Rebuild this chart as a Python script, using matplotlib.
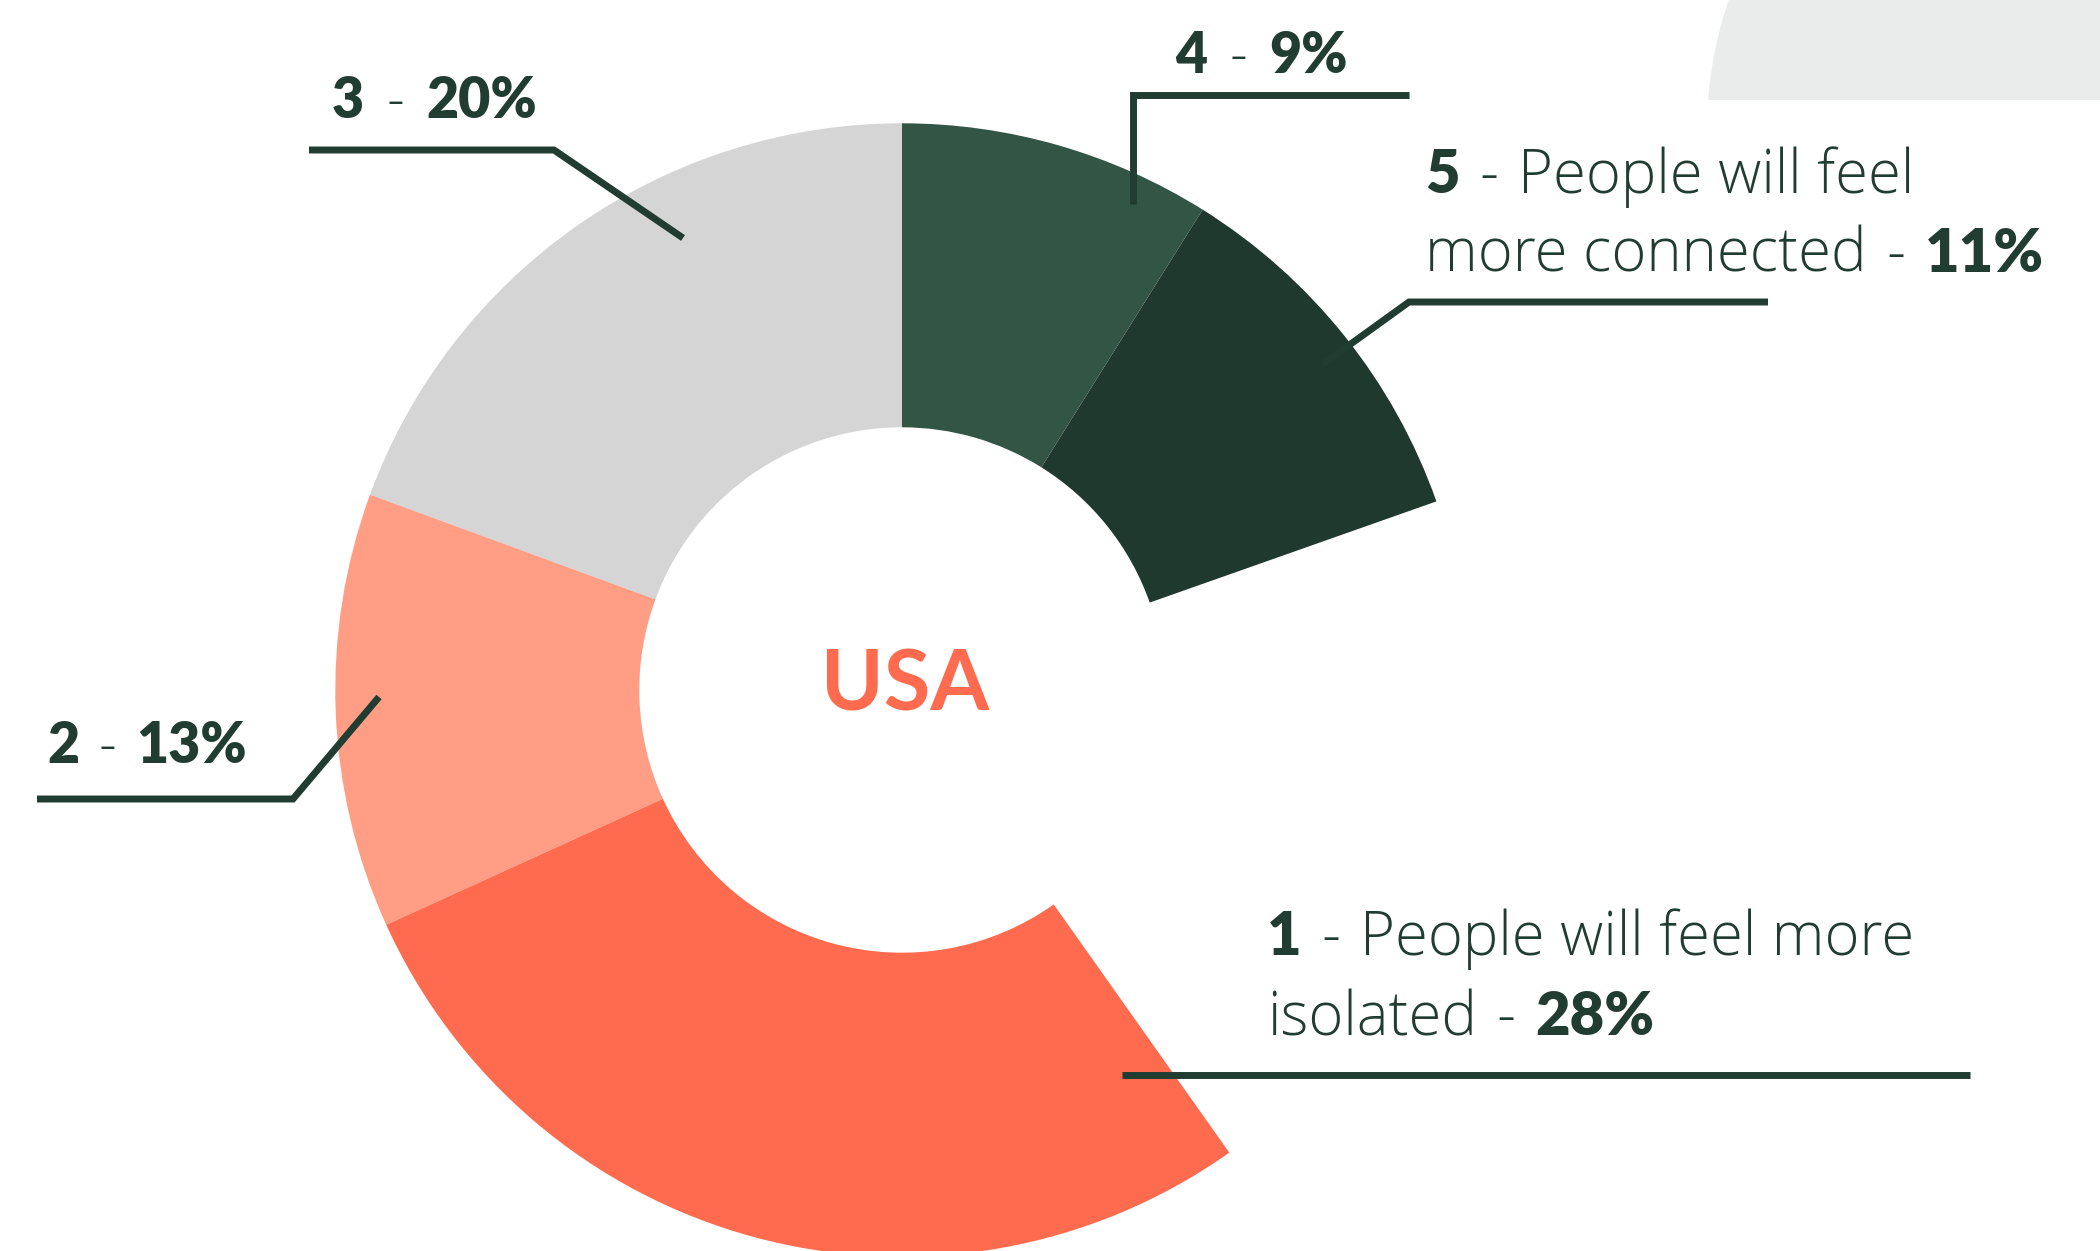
import matplotlib
matplotlib.use("Agg")
import matplotlib.pyplot as plt
from matplotlib.patches import Circle, Rectangle

# ── Data ─────────────────────────────────────────────────────
# wedges in drawing order, counter-clockwise from 12 o'clock
ranks      = ["3", "2", "1", "5", "4"]
pct_labels = ["20%", "13%", "28%", "11%", "9%"]
shares     = [19.4, 12.4, 28.0, 10.7, 8.9]   # arc share as drawn
gap_share  = 20.6                             # empty part of the ring
colors     = ["#d5d5d5", "#ff9d85", "#ff6b4f", "#1f392e", "#335545"]
desc_1     = ["People will feel more", "isolated"]
desc_5     = ["People will feel", "more connected"]
center_txt = "USA"

INK   = "#213d32"
CORAL = "#ff6b4f"
BOLD_FONT = ["Lato", "DejaVu Sans"]
BODY_FONT = ["Open Sans", "Lato", "DejaVu Sans"]
W, H  = 2100, 1251

fig = plt.figure(figsize=(W / 100, H / 100), dpi=100)
ax = fig.add_axes([0, 0, 1, 1])

# ── Decorative grey disc, top right ──────────────────────────
disc = Circle((2107, 130), 400, color="#eaeceb", lw=0, zorder=0)
ax.add_patch(disc)
disc.set_clip_path(Rectangle((1600, 0), 500, 100, transform=ax.transData))

# ── Donut ────────────────────────────────────────────────────
values = shares[:3] + [gap_share] + shares[3:]
cols   = colors[:3] + ["none"] + colors[3:]
# y axis is inverted below, so go clockwise in data = counter-clockwise on screen
wedges, _ = ax.pie(values, colors=cols, startangle=-90, counterclock=False,
                   center=(902, 690), radius=566.7,
                   wedgeprops=dict(width=304, edgecolor="none", linewidth=0))
wedges[3].set_visible(False)

ax.set_xlim(0, W)
ax.set_ylim(H, 0)
ax.set_aspect("equal")
ax.axis("off")

# ── Leader lines ─────────────────────────────────────────────
leaders = [
    [(309, 150), (554, 150), (683, 238)],     # 3
    [(37, 799), (293, 799), (379, 697)],      # 2
    [(1409, 95), (1133, 95), (1133, 204)],    # 4
    [(1768, 302), (1409, 302), (1323, 364)],  # 5
    [(1122, 1075), (1970, 1075)],             # 1
]
for pts in leaders:
    xs, ys = zip(*pts)
    ax.plot(xs, ys, color=INK, lw=5, solid_capstyle="butt",
            solid_joinstyle="miter", zorder=5)

# ── Text helpers ─────────────────────────────────────────────
fig.canvas.draw()
rend = fig.canvas.get_renderer()


def rich(x, y, parts, size, space=0.3):
    """Draw pieces of text side by side on one baseline, each with its own weight."""
    gap = size * 100 / 72 * space
    for i, (s, w) in enumerate(parts):
        fam = BOLD_FONT if w == "heavy" else BODY_FONT
        t = ax.text(x, y, s, fontsize=size, fontweight=w, color=INK,
                    family=fam, ha="left", va="baseline", zorder=6)
        x += t.get_window_extent(renderer=rend).width
        if i < len(parts) - 1:
            x += gap


num = dict(zip(ranks, pct_labels))
SZ = 40
BODY = 43
rich(332, 118, [("3", "heavy"), ("-", "light"), (num["3"], "heavy")], SZ, 0.4)
rich(47, 763, [("2", "heavy"), ("-", "light"), (num["2"], "heavy")], SZ, 0.35)
rich(1175, 73, [("4", "heavy"), ("-", "light"), (num["4"], "heavy")], SZ, 0.4)

rich(1425, 193, [("5", "heavy"), ("-", "light"), (desc_5[0], "light")], BODY, 0.33)
rich(1425, 272, [(desc_5[1], "light"), ("-", "light"), (num["5"], "heavy")], BODY, 0.33)

rich(1267, 955, [("1", "heavy"), ("-", "light"), (desc_1[0], "light")], BODY, 0.33)
rich(1267, 1035, [(desc_1[1], "light"), ("-", "light"), (num["1"], "heavy")], BODY, 0.33)

ax.text(905, 686, center_txt, fontsize=61, fontweight="bold", color=CORAL,
        family=BOLD_FONT, ha="center", va="center", zorder=6)

fig.savefig("out.png", dpi=100, facecolor="white")
